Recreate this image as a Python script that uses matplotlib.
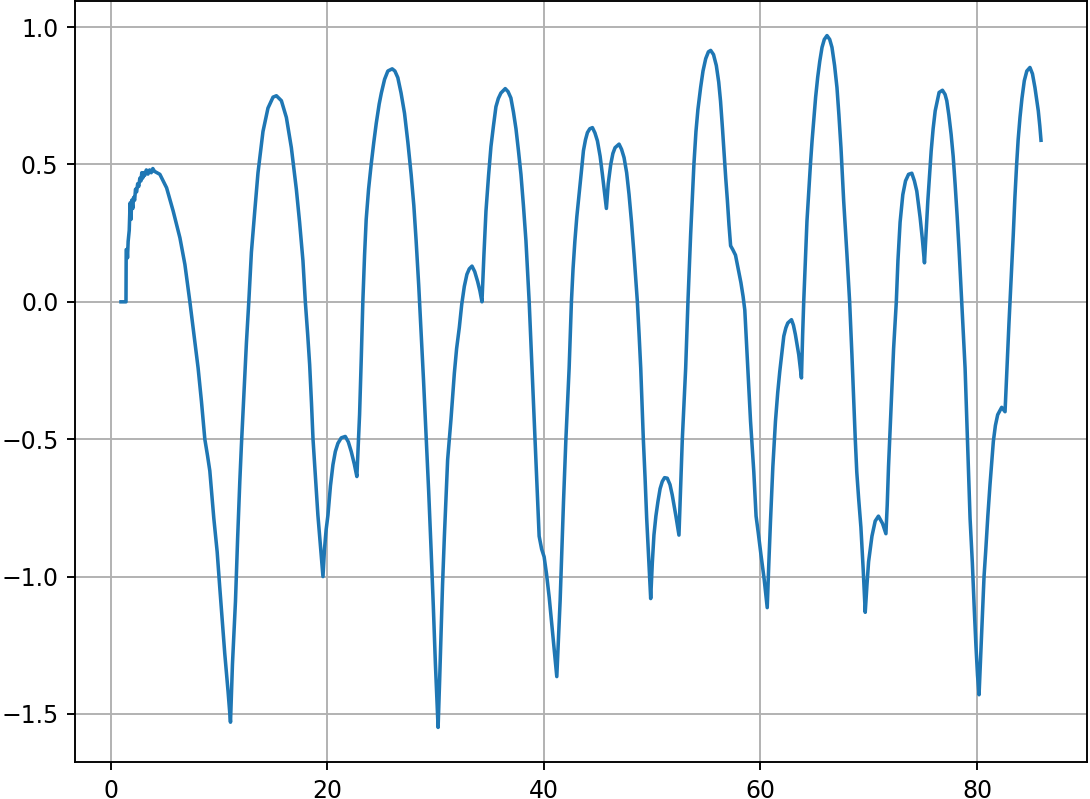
import matplotlib
matplotlib.use("Agg")
import matplotlib.pyplot as plt

# valores: tiempo y senal, un renglon por tramo
t = [0.96, 1.42, 1.44, 1.52, 1.56, 1.62, 1.72, 1.80, 1.88, 1.95, 2.05, 2.12, 2.22, 2.30, 2.40,
     2.50, 2.60, 2.70, 2.80, 2.88, 2.96, 3.05, 3.15, 3.30, 3.45, 3.60, 3.75, 3.90, 4.05,
     4.55, 5.17, 5.78, 6.40, 6.86, 7.32, 7.62, 8.08, 8.39, 8.70, 8.95, 9.16, 9.53, 9.84, 10.08,
     10.54, 10.85, 11.07,
     11.25, 11.53, 11.73, 11.93, 12.08, 12.23, 12.54, 12.76, 13.00, 13.31, 13.61, 14.07, 14.53,
     15.00, 15.31, 15.77, 16.23, 16.69, 17.15, 17.45, 17.76, 17.98, 18.20, 18.38, 18.55, 18.69,
     18.90, 19.14, 19.40, 19.61,
     19.75, 19.90, 20.07, 20.30, 20.53, 20.75, 20.99, 21.30, 21.67, 21.95, 22.22, 22.50, 22.74,
     22.99, 23.15, 23.29, 23.45, 23.60, 23.82, 24.06, 24.30, 24.53, 24.80, 25.00, 25.30, 25.60,
     26.00, 26.25, 26.52, 26.82, 27.14, 27.45, 27.75, 28.00, 28.21, 28.45, 28.67, 28.90, 29.13,
     29.37, 29.60, 29.80, 29.99, 30.24,
     30.38, 30.50, 30.65, 30.82, 31.12, 31.43, 31.74, 31.95, 32.20, 32.42, 32.66, 32.90, 33.12,
     33.37, 33.62, 33.89, 34.10, 34.29,
     34.47, 34.66, 34.90, 35.12, 35.35, 35.58, 35.80, 36.04, 36.44, 36.70, 36.96, 37.20, 37.43,
     37.66, 37.89, 38.12, 38.35, 38.50, 38.65, 38.80, 38.96, 39.12, 39.27, 39.42, 39.57, 39.80,
     40.03, 40.25, 40.50, 40.68, 40.86, 41.03, 41.20,
     41.35, 41.51, 41.67, 41.82, 42.04, 42.20, 42.34, 42.55, 42.70, 42.87, 43.05, 43.26, 43.46,
     43.66, 43.85, 44.03, 44.25, 44.49, 44.72, 44.95, 45.20, 45.41, 45.60, 45.78,
     45.95, 46.18, 46.38, 46.58, 46.95, 47.18, 47.41, 47.65, 47.87, 48.10, 48.33, 48.50, 48.64,
     48.80, 48.95, 49.19, 49.35, 49.50, 49.70, 49.87,
     50.02, 50.17, 50.35, 50.54, 50.74, 50.94, 51.15, 51.40, 51.65, 51.86, 52.20, 52.48,
     52.64, 52.79, 52.95, 53.10, 53.31, 53.56, 53.86, 54.05, 54.23, 54.48, 54.70, 54.95, 55.20,
     55.41, 55.67, 55.93, 56.15, 56.32, 56.50, 56.63, 56.80, 56.95, 57.10, 57.25, 57.45, 57.70,
     57.95, 58.20, 58.40, 58.56, 58.77, 59.09, 59.39, 59.60, 59.80, 60.05, 60.35, 60.63,
     60.78, 60.93, 61.15, 61.39, 61.60, 61.79, 62.00, 62.16, 62.35, 62.53, 62.87, 63.05, 63.23,
     63.54, 63.79,
     63.90, 64.00, 64.15, 64.30, 64.46, 64.62, 64.77, 64.92, 65.10, 65.29, 65.48, 65.69, 65.90,
     66.15, 66.40, 66.61, 66.85, 67.07, 67.25, 67.44, 67.69, 67.99, 68.24, 68.45, 68.60, 68.76,
     68.90, 69.07, 69.28, 69.50, 69.68,
     69.84, 69.99, 70.30, 70.60, 70.90, 71.28, 71.59,
     71.71, 71.83, 71.98, 72.14, 72.30, 72.42, 72.55, 72.70, 72.90, 73.15, 73.40, 73.68, 73.98,
     74.22, 74.44, 74.75, 74.95, 75.15,
     75.30, 75.46, 75.62, 75.77, 75.95, 76.14, 76.50, 76.81, 77.05, 77.21, 77.40, 77.61, 77.80,
     77.98, 78.17, 78.35, 78.59, 78.75, 78.90, 79.12, 79.36, 79.57, 79.75, 79.90, 80.05, 80.19,
     80.35, 80.50, 80.65, 80.80, 81.00, 81.20, 81.51, 81.70, 81.91, 82.28, 82.59,
     82.70, 82.83, 82.95, 83.05, 83.20, 83.35, 83.50, 83.66, 83.80, 83.97, 84.15, 84.37, 84.60,
     84.89, 85.12, 85.35, 85.50, 85.66, 85.80, 85.91]

senal = [0.0, 0.0, 0.19, 0.19, 0.16, 0.22, 0.26, 0.36, 0.30, 0.37, 0.34, 0.38, 0.37, 0.41, 0.40,
         0.43, 0.42, 0.45, 0.44, 0.47, 0.45, 0.47, 0.46, 0.48, 0.465, 0.48, 0.47, 0.485, 0.475,
         0.464, 0.415, 0.33, 0.233, 0.136, 0.0, -0.095, -0.241, -0.363, -0.5, -0.56, -0.615,
         -0.788, -0.91, -1.04, -1.28, -1.42, -1.53,
         -1.32, -1.09, -0.86, -0.654, -0.52, -0.40, -0.15, 0.0, 0.18, 0.33, 0.47, 0.62, 0.705,
         0.745, 0.75, 0.732, 0.671, 0.561, 0.41, 0.29, 0.15, 0.0, -0.12, -0.229, -0.37, -0.5,
         -0.63, -0.776, -0.9, -1.0,
         -0.9, -0.83, -0.776, -0.67, -0.593, -0.545, -0.515, -0.495, -0.49, -0.51, -0.545, -0.59,
         -0.636,
         -0.41, -0.2, 0.0, 0.17, 0.30, 0.41, 0.5, 0.58, 0.65, 0.72, 0.76, 0.81, 0.84,
         0.848, 0.84, 0.816, 0.76, 0.686, 0.58, 0.464, 0.35, 0.223, 0.06, -0.111, -0.29, -0.482,
         -0.69, -0.909, -1.11, -1.317, -1.549,
         -1.38, -1.22, -1.03, -0.853, -0.575, -0.427, -0.26, -0.17, -0.093, -0.01, 0.056, 0.1,
         0.12, 0.13, 0.11, 0.074, 0.04, 0.0,
         0.17, 0.33, 0.46, 0.565, 0.64, 0.71, 0.74, 0.76, 0.776, 0.765, 0.742, 0.69, 0.63,
         0.55, 0.464, 0.35, 0.223, 0.11, 0.0, -0.14, -0.297, -0.44, -0.575, -0.72, -0.853, -0.9,
         -0.928, -0.99, -1.076, -1.15, -1.224, -1.29, -1.364,
         -1.23, -1.086, -0.9, -0.727, -0.5, -0.36, -0.241, 0.0, 0.12, 0.221, 0.31, 0.391, 0.47,
         0.55, 0.59, 0.616, 0.63, 0.634, 0.615, 0.586, 0.53, 0.464, 0.4, 0.34,
         0.43, 0.5, 0.54, 0.561, 0.574, 0.555, 0.525, 0.47, 0.391, 0.29, 0.173, 0.08, 0.0,
         -0.12, -0.241, -0.5, -0.64, -0.788, -0.95, -1.08,
         -0.95, -0.849, -0.78, -0.727, -0.68, -0.654, -0.64, -0.642, -0.665, -0.703, -0.78, -0.849,
         -0.67, -0.5, -0.37, -0.241, 0.0, 0.246, 0.5, 0.62, 0.7, 0.78, 0.84, 0.885, 0.91,
         0.915, 0.9, 0.86, 0.8, 0.73, 0.63, 0.55, 0.45, 0.37, 0.28, 0.204, 0.19, 0.17,
         0.12, 0.07, 0.02, -0.03, -0.19, -0.435, -0.618, -0.78, -0.84, -0.92, -1.01, -1.113,
         -0.95, -0.8, -0.6, -0.435, -0.33, -0.253, -0.18, -0.125, -0.095, -0.077, -0.065, -0.085,
         -0.119, -0.192, -0.277,
         -0.12, 0.0, 0.15, 0.294, 0.4, 0.5, 0.585, 0.659, 0.745, 0.817, 0.875, 0.926, 0.955,
         0.969, 0.955, 0.926, 0.86, 0.78, 0.68, 0.561, 0.367, 0.173, 0.0, -0.192, -0.34, -0.5,
         -0.62, -0.715, -0.82, -0.98, -1.13,
         -1.03, -0.946, -0.853, -0.798, -0.78, -0.807, -0.844,
         -0.74, -0.6, -0.46, -0.314, -0.17, -0.09, 0.0, 0.15, 0.29, 0.39, 0.44, 0.464, 0.468,
         0.44, 0.403, 0.306, 0.23, 0.142,
         0.25, 0.367, 0.46, 0.549, 0.63, 0.695, 0.762, 0.77, 0.755, 0.732, 0.68, 0.61, 0.53,
         0.428, 0.31, 0.185, 0.0, -0.12, -0.241, -0.5, -0.788, -0.95, -1.12, -1.25, -1.36, -1.43,
         -1.28, -1.13, -1.0, -0.91, -0.78, -0.666, -0.508, -0.45, -0.411, -0.384, -0.4,
         -0.3, -0.18, -0.08, 0.0, 0.12, 0.245, 0.38, 0.5, 0.59, 0.671, 0.74, 0.805, 0.84,
         0.853, 0.83, 0.78, 0.74, 0.695, 0.64, 0.588]

fig = plt.figure(figsize=(1090 / 170, 799 / 170), dpi=170)
ax = fig.add_axes([75 / 1090, 37 / 799, 1012 / 1090, 761 / 799])
ax.plot(t, senal, color='#1f77b4', linewidth=1.5)
ax.grid(True)

fig.savefig("out.png", dpi=170)
